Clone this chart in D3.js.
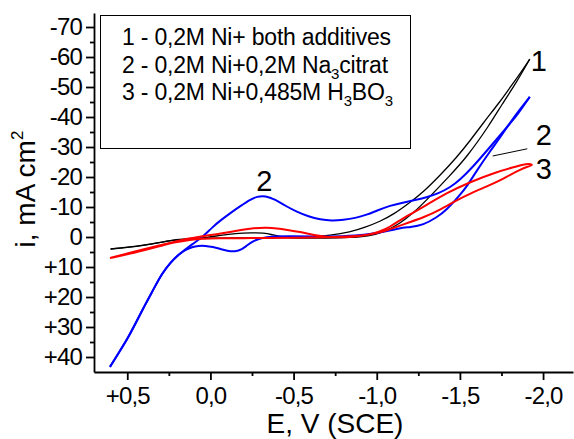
<!DOCTYPE html>
<html>
<head>
<meta charset="utf-8">
<script src="https://cdn.jsdelivr.net/npm/d3@7"></script>
<style>
  body { margin: 0; background: #fff; }
  text { font-family: "Liberation Sans", Arial, sans-serif; fill: #000; }
</style>
</head>
<body>
<div id="my_dataviz"></div>
<script>
// Cyclic voltammograms, [E (V vs SCE), i (mA cm-2)], forward and reverse branches
const curve1Forward = [[0.60,4.0],[0.50,3.5],[0.39,2.7],[0.30,1.8],[0.21,0.8],[0.10,0.4],[0.02,0.2],[-0.06,-0.6],[-0.15,-1.2],[-0.25,-1.4],[-0.32,-1.4],[-0.37,-0.8],[-0.43,0.1],[-0.55,0.4],[-0.70,0.4],[-0.84,0.2],[-0.95,-0.3],[-1.04,-1.5],[-1.14,-4.5],[-1.22,-8],[-1.30,-12.3],[-1.44,-20.5],[-1.54,-26.5],[-1.68,-37.5],[-1.75,-44],[-1.84,-51.5],[-1.92,-59.3]];
const curve1Reverse = [[-1.92,-59.3],[-1.85,-53.5],[-1.79,-49],[-1.74,-45],[-1.64,-38],[-1.56,-32],[-1.48,-26.5],[-1.38,-20.5],[-1.28,-15],[-1.20,-11.5],[-1.10,-7.5],[-1.02,-5.2],[-0.93,-3.2],[-0.84,-1.6],[-0.72,-0.5],[-0.60,0.0],[-0.45,0.2],[-0.30,0.3],[-0.15,0.3],[0.00,0.4],[0.10,0.6],[0.21,1.0],[0.30,1.8],[0.39,2.6],[0.50,3.4],[0.60,4.0]];

const curve2Forward = [[0.604,43.3],[0.55,38.5],[0.496,33.7],[0.45,28.8],[0.394,22.7],[0.34,17.2],[0.292,12.2],[0.24,8.5],[0.195,6],[0.15,4.3],[0.111,3.3],[0.07,2.9],[0.033,2.9],[-0.015,3.3],[-0.06,4.0],[-0.10,4.6],[-0.15,4.9],[-0.19,4.1],[-0.22,2.8],[-0.26,1.3],[-0.30,0.3],[-0.38,-0.2],[-0.48,-0.3],[-0.62,-0.1],[-0.80,-0.2],[-0.94,-0.7],[-1.05,-1.8],[-1.14,-3.0],[-1.20,-3.3],[-1.28,-4.0],[-1.36,-6.5],[-1.42,-9.0],[-1.50,-14],[-1.54,-16.7],[-1.60,-22],[-1.68,-28.5],[-1.74,-33],[-1.80,-38],[-1.86,-42.5],[-1.92,-46.7]];
const curve2Reverse = [[-1.92,-46.7],[-1.88,-43.5],[-1.84,-40.3],[-1.78,-36.5],[-1.72,-32.5],[-1.65,-28],[-1.58,-23.5],[-1.50,-19],[-1.44,-16.5],[-1.37,-14.5],[-1.30,-13.2],[-1.22,-12.2],[-1.16,-11.5],[-1.08,-10.5],[-1.00,-8.8],[-0.94,-7.4],[-0.87,-6.3],[-0.80,-5.7],[-0.73,-5.4],[-0.66,-5.8],[-0.59,-6.8],[-0.52,-8.4],[-0.45,-10.4],[-0.39,-12.5],[-0.33,-13.8],[-0.28,-13.5],[-0.24,-12.5],[-0.18,-10.3],[-0.12,-8.0],[-0.06,-5.5],[-0.01,-3.2],[0.045,0.0],[0.11,2.4],[0.15,4.1],[0.195,6],[0.24,8.5],[0.292,12.2],[0.34,17.2],[0.394,22.7],[0.45,28.8],[0.496,33.7],[0.55,38.5],[0.604,43.3]];

const curve3Forward = [[0.604,7.0],[0.50,5.8],[0.40,4.4],[0.30,3.0],[0.21,1.7],[0.12,0.9],[0.06,0.5],[-0.05,0.4],[-0.20,0.4],[-0.34,0.3],[-0.50,0.3],[-0.70,0.1],[-0.86,-0.2],[-0.96,-0.8],[-1.04,-1.8],[-1.10,-3.0],[-1.20,-5.0],[-1.28,-6.5],[-1.38,-9.0],[-1.48,-12.3],[-1.57,-14.7],[-1.66,-16.8],[-1.74,-18.8],[-1.80,-20.7],[-1.86,-22.4],[-1.91,-23.5],[-1.94,-24.0]];
const curve3Reverse = [[-1.94,-24.0],[-1.92,-24.4],[-1.88,-24.2],[-1.84,-23.5],[-1.72,-21.7],[-1.56,-18.3],[-1.42,-14.7],[-1.28,-10.0],[-1.20,-7.5],[-1.14,-5.6],[-1.08,-3.4],[-1.02,-1.8],[-0.94,-0.6],[-0.84,0.1],[-0.72,0.2],[-0.62,-0.6],[-0.54,-1.7],[-0.46,-2.4],[-0.40,-2.9],[-0.34,-3.2],[-0.26,-3.0],[-0.18,-2.3],[-0.12,-1.7],[-0.04,-0.9],[0.06,-0.2],[0.14,0.6],[0.21,1.5],[0.30,2.7],[0.40,4.1],[0.50,5.5],[0.604,7.0]];

const curveColors = ["#000000", "#0000ff", "#ff0000"];
const curveWidths = [1.3, 2, 2];

const xTickValues = [0.5, 0, -0.5, -1, -1.5, -2];
const xTickLabels = ["+0,5", "0,0", "-0,5", "-1,0", "-1,5", "-2,0"];
const xMinorTicks = [0.25, -0.25, -0.75, -1.25, -1.75];
const yTickValues = [-70, -60, -50, -40, -30, -20, -10, 0, 10, 20, 30, 40];
const yTickLabels = ["-70", "-60", "-50", "-40", "-30", "-20", "-10", "0", "+10", "+20", "+30", "+40"];
const yMinorTicks = [-65, -55, -45, -35, -25, -15, -5, 5, 15, 25, 35];

const legendLines = [
  [["1 - 0,2M Ni+ both additives", 0]],
  [["2 - 0,2M Ni+0,2M Na", 0], ["3", 1], ["citrat", 0]],
  [["3 - 0,2M Ni+0,485M H", 0], ["3", 1], ["BO", 0], ["3", 1]]
];

// curve labels placed in data coordinates
const curveLabels = [
  { text: "1", E: -1.926, i: -55.2 },
  { text: "2", E: -1.956, i: -30.7 },
  { text: "3", E: -1.956, i: -19.3 },
  { text: "2", E: -0.275, i: -15.4 }
];
const leader = [[-1.697, -27.0], [-1.905, -29.4]];

const width = 574;
const height = 439;

const svg = d3.select("#my_dataviz")
  .append("svg")
  .attr("width", width)
  .attr("height", height);

const x = d3.scaleLinear().domain([0.70, -2.18]).range([94, 573]);
const y = d3.scaleLinear().domain([-74.67, 45]).range([13, 372]);

// Axes
svg.append("g")
  .attr("transform", `translate(0,${y.range()[1]})`)
  .call(d3.axisBottom(x)
    .tickValues(xTickValues)
    .tickFormat((d, k) => xTickLabels[k])
    .tickSize(8).tickSizeOuter(0).tickPadding(7));

svg.append("g")
  .attr("transform", `translate(0,${y.range()[1]})`)
  .call(d3.axisBottom(x).tickValues(xMinorTicks).tickFormat("").tickSize(4).tickSizeOuter(0))
  .select(".domain").remove();

svg.append("g")
  .attr("transform", `translate(${x.range()[0]},0)`)
  .call(d3.axisLeft(y)
    .tickValues(yTickValues)
    .tickFormat((d, k) => yTickLabels[k])
    .tickSize(8).tickSizeOuter(0).tickPadding(4));

svg.append("g")
  .attr("transform", `translate(${x.range()[0]},0)`)
  .call(d3.axisLeft(y).tickValues(yMinorTicks).tickFormat("").tickSize(4).tickSizeOuter(0))
  .select(".domain").remove();

svg.selectAll(".domain, .tick line")
  .attr("stroke", "#000")
  .attr("stroke-width", 1.8);
svg.selectAll(".tick text")
  .attr("font-family", "Liberation Sans, Arial, sans-serif")
  .attr("font-size", 24)
  .attr("letter-spacing", "-0.8px")
  .attr("fill", "#000");

// Axis titles
svg.append("text")
  .attr("x", 335)
  .attr("y", 433)
  .attr("text-anchor", "middle")
  .attr("font-size", 28)
  .text("E, V (SCE)");

const yTitle = svg.append("text")
  .attr("transform", "translate(35,189) rotate(-90)")
  .attr("text-anchor", "middle")
  .attr("font-size", 28);
yTitle.append("tspan").text("i, mA cm");
yTitle.append("tspan").attr("dy", -12).attr("font-size", 17).text("2");

// Curves: each scan branch drawn as its own smooth path, curve 3 has a rounded tip
const line = d3.line()
  .x(d => x(d[0]))
  .y(d => y(d[1]))
  .curve(d3.curveBasis);

const branches = [
  { pts: curve1Forward, k: 0 },
  { pts: curve1Reverse, k: 0 },
  { pts: curve2Forward, k: 1 },
  { pts: curve2Reverse, k: 1 },
  { pts: curve3Forward.concat(curve3Reverse.slice(1)), k: 2 }
];

svg.append("g")
  .selectAll("path")
  .data(branches)
  .join("path")
  .attr("d", d => line(d.pts))
  .attr("fill", "none")
  .attr("stroke", d => curveColors[d.k])
  .attr("stroke-width", d => curveWidths[d.k])
  .attr("stroke-linejoin", "round");

// Curve labels
svg.append("g")
  .selectAll("text")
  .data(curveLabels)
  .join("text")
  .attr("x", d => x(d.E))
  .attr("y", d => y(d.i))
  .attr("font-size", 29)
  .text(d => d.text);

svg.append("line")
  .attr("x1", x(leader[0][0])).attr("y1", y(leader[0][1]))
  .attr("x2", x(leader[1][0])).attr("y2", y(leader[1][1]))
  .attr("stroke", "#000")
  .attr("stroke-width", 1);

// Legend box
const legend = svg.append("g");
legend.append("rect")
  .attr("x", 100.5).attr("y", 15.5)
  .attr("width", 310).attr("height", 133)
  .attr("fill", "#fff")
  .attr("stroke", "#000")
  .attr("stroke-width", 1);

legendLines.forEach((parts, k) => {
  const t = legend.append("text")
    .attr("x", 122)
    .attr("y", 45 + k * 27.5)
    .attr("font-size", 23)
    .attr("letter-spacing", "-0.2px");
  let shifted = false;
  parts.forEach(([str, sub]) => {
    const ts = t.append("tspan").text(str);
    if (sub && !shifted) { ts.attr("dy", 6).attr("font-size", 15); shifted = true; }
    else if (!sub && shifted) { ts.attr("dy", -6); shifted = false; }
    else if (sub) ts.attr("font-size", 15);
  });
});
</script>
</body>
</html>
